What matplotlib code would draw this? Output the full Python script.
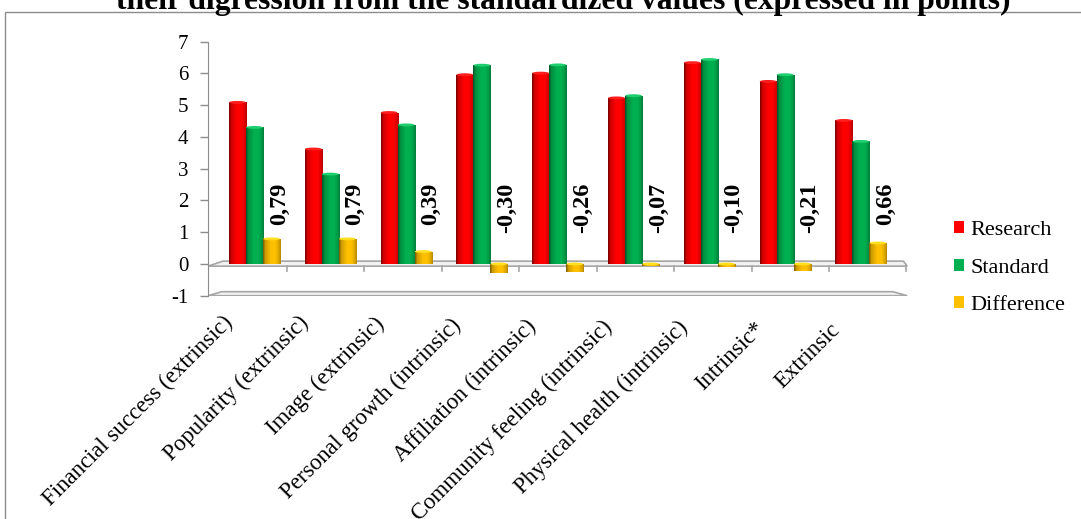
import matplotlib
matplotlib.use("Agg")
import matplotlib.pyplot as plt
import numpy as np
from matplotlib.patches import Polygon, Rectangle, Ellipse, Patch
from matplotlib.colors import to_rgb

plt.rcParams['font.family'] = ['Liberation Serif', 'DejaVu Serif']
plt.rcParams['axes.unicode_minus'] = False

# Категории и значения
categories = ["Financial success (extrinsic)", "Popularity (extrinsic)",
              "Image (extrinsic)", "Personal growth (intrinsic)",
              "Affiliation (intrinsic)", "Community feeling (intrinsic)",
              "Physical health (intrinsic)", "Intrinsic*", "Extrinsic"]
research = [5.09, 3.62, 4.77, 5.96, 6.01, 5.23, 6.34, 5.75, 4.52]
standard = [4.30, 2.83, 4.38, 6.26, 6.27, 5.30, 6.44, 5.96, 3.86]
difference = [0.79, 0.79, 0.39, -0.30, -0.26, -0.07, -0.10, -0.21, 0.66]
diff_labels = ["0,79", "0,79", "0,39", "-0,30", "-0,26", "-0,07", "-0,10", "-0,21", "0,66"]
series_names = ["Research", "Standard", "Difference"]
colors = ["#FF0000", "#00B050", "#FFC000"]

W, H = 1081, 519
fig = plt.figure(figsize=(W / 100, H / 100), dpi=100)

# рамка диаграммы
fig.patches.append(Rectangle((5 / W, -0.05), 1.1, 1.05 - 12.3 / H, transform=fig.transFigure,
                             fill=False, edgecolor="#8c8c8c", linewidth=1.0, zorder=0))

fig.text(563 / W, 1 - 8.5 / H,
         "their digression from the standardized values (expressed in points)",
         ha="center", va="baseline", fontsize=22.8, fontweight="bold", zorder=5)

ax = fig.add_axes([208 / W, (H - 295.7) / H, (911 - 208) / W, 254 / H])
ax.set_facecolor("none")


def cylinder(x, h, w, color):
    """Столбец-цилиндр с горизонтальной заливкой-градиентом."""
    bar = ax.bar(x, h, w, color=color, linewidth=0, zorder=3)[0]
    t = np.linspace(0, 1, 64)
    k = np.interp(t, [0, 0.12, 0.45, 0.7, 0.9, 1], [0.45, 0.8, 1.0, 1.0, 0.85, 0.7])
    base = np.array(to_rgb(color))
    row = np.clip(base[None, :] * k[:, None], 0, 1)
    img = np.repeat(row[None, :, :], 2, axis=0)
    im = ax.imshow(img, extent=(x - w / 2, x + w / 2, min(0, h), max(0, h)),
                   aspect="auto", zorder=3.1, interpolation="bilinear")
    im.set_clip_path(bar)
    top = max(0, h)
    cap = np.clip(base * 1.0 + 0.12, 0, 1)
    ax.add_patch(Ellipse((x, top), w * 0.98, 0.09, facecolor=cap, edgecolor="none", zorder=3.2))


x = np.arange(len(categories))
w = 0.225
# плоскость нуля и дно
ax.add_patch(Polygon([(-0.613, -1), (-0.43, -0.874), (8.42, -0.874), (8.61, -1)],
                     closed=True, facecolor="#f2f2f2", edgecolor="#a6a6a6", lw=1.2, zorder=1))
ax.add_patch(Polygon([(-0.613, -0.069), (-0.416, 0.088), (8.56, 0.088), (8.61, -0.069)],
                     closed=True, facecolor="#f2f2f2", edgecolor="#a6a6a6", lw=1.2, zorder=1))
for tx in np.linspace(0.43, 8.6, 9):
    ax.plot([tx, tx], [-0.069, -0.21], color="#a6a6a6", lw=1.2, zorder=1)

for i in x:
    cylinder(i - w, research[i], w, colors[0])
    cylinder(i, standard[i], w, colors[1])
    cylinder(i + w, difference[i], w, colors[2])
    ax.text(i + w + 0.1, 2.56, diff_labels[i], rotation=90, ha="center", va="top",
            fontsize=17.5, fontweight="bold", zorder=4)
    ax.text(i - 0.42, -1.5 - 0.03 * i, categories[i], rotation=45, ha="right", va="top",
            rotation_mode="anchor", fontsize=16.5, clip_on=False)

ax.set_xlim(-0.613, 8.66)
ax.set_ylim(-1, 7)
ax.set_yticks(range(-1, 8))
ax.set_xticks([])
for s in ["top", "right", "bottom"]:
    ax.spines[s].set_visible(False)
ax.spines["left"].set_color("#8c8c8c")
ax.tick_params(axis="y", direction="out", length=6, width=1, color="#8c8c8c",
               pad=8, labelsize=15)

handles = [Patch(facecolor=c, edgecolor="none") for c in colors]
fig.legend(handles, series_names, loc="center left", bbox_to_anchor=(945 / W, 1 - 268 / H),
           frameon=False, fontsize=16, handlelength=0.45, handleheight=0.45,
           handletextpad=0.3, labelspacing=0.82, borderaxespad=0)

fig.savefig("out.png", dpi=100)
